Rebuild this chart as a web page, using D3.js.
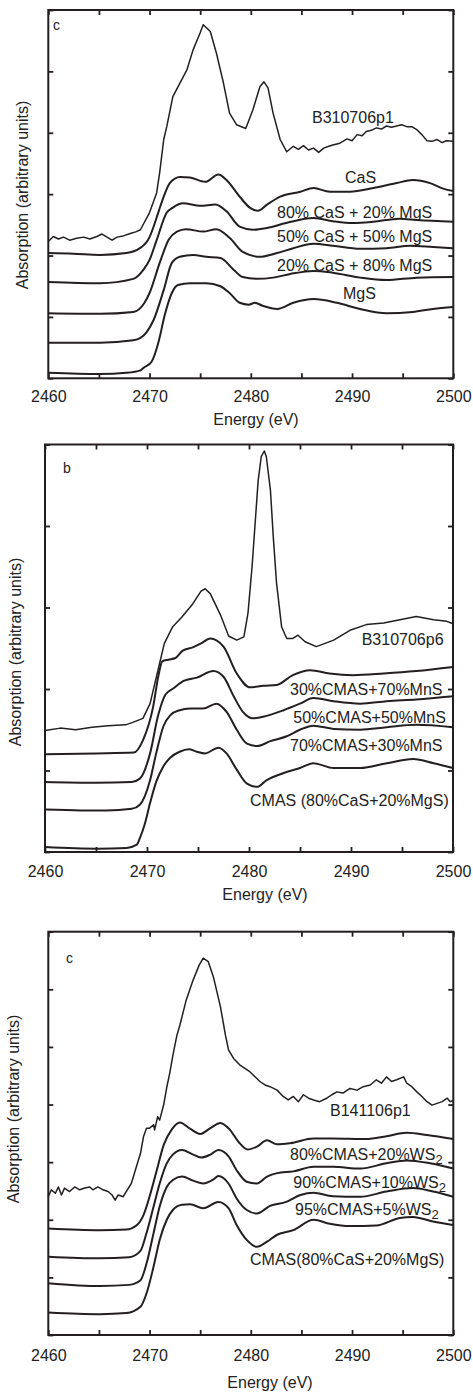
<!DOCTYPE html>
<html>
<head>
<meta charset="utf-8">
<script src="https://cdn.jsdelivr.net/npm/d3@7"></script>
<style>
  body { margin: 0; background: #fff; }
  text { font-family: "Liberation Sans", Arial, sans-serif; fill: #222; }
</style>
</head>
<body>
<div id="chart"></div>
<script>
// energies (eV) / absorption (arbitrary units, one tick = 1)

// panel 1
const p1Sample = [[2460,2.23],[2460.5,2.31],[2461,2.27],[2461.5,2.30],[2462.1,2.25],[2462.8,2.28],[2463.5,2.30],[2464.1,2.27],[2464.8,2.31],[2465.3,2.35],[2465.8,2.30],[2466.3,2.25],[2466.8,2.30],[2467.4,2.32],[2468.1,2.36],[2468.7,2.39],[2469.1,2.42],[2470.0,2.70],[2470.7,3.02],[2471.0,3.35],[2471.4,3.89],[2471.7,4.10],[2472.3,4.59],[2473.0,4.81],[2473.7,5.03],[2474.3,5.35],[2475.0,5.63],[2475.3,5.76],[2476.0,5.65],[2476.6,5.30],[2477.3,4.81],[2477.9,4.32],[2478.6,4.13],[2479.5,4.07],[2480.2,4.37],[2480.9,4.75],[2481.3,4.83],[2481.7,4.73],[2482.2,4.32],[2482.9,3.89],[2483.55,3.69],[2484.2,3.78],[2484.7,3.73],[2485.2,3.79],[2485.7,3.72],[2486.2,3.75],[2486.7,3.68],[2487.2,3.75],[2487.7,3.78],[2488.1,3.80],[2488.8,3.83],[2489.5,3.90],[2490.0,3.87],[2490.5,3.97],[2491.0,3.95],[2491.4,4.02],[2491.9,4.04],[2492.4,4.08],[2492.9,4.06],[2493.4,4.11],[2493.9,4.09],[2494.4,4.11],[2494.9,4.13],[2495.4,4.10],[2495.9,4.10],[2496.4,4.05],[2496.9,3.97],[2497.4,3.87],[2497.9,3.86],[2498.4,3.89],[2498.9,3.84],[2499.3,3.87],[2500,3.86]]
const p1CaS = [[2460,2.04],[2462.5,2.03],[2465.1,2.01],[2467.7,2.04],[2469.05,2.12],[2470.0,2.30],[2470.4,2.47],[2470.9,2.72],[2471.4,2.96],[2472.0,3.18],[2473.0,3.28],[2474.0,3.27],[2475.5,3.20],[2476.8,3.32],[2477.6,3.23],[2478.9,2.96],[2479.9,2.78],[2480.7,2.73],[2481.6,2.83],[2482.9,2.96],[2484.9,3.04],[2486.2,3.10],[2487.8,3.04],[2489.8,3.04],[2492.1,3.10],[2494.4,3.18],[2496.0,3.23],[2497.7,3.18],[2499.0,3.09],[2500,3.05]]
const p1Mix80 = [[2460,1.57],[2465.1,1.55],[2468.4,1.62],[2469.4,1.77],[2470.0,1.93],[2470.7,2.25],[2471.7,2.70],[2472.3,2.78],[2473.3,2.85],[2475.0,2.81],[2476.5,2.83],[2477.6,2.72],[2478.9,2.47],[2480.2,2.42],[2481.6,2.45],[2483.5,2.53],[2486.2,2.61],[2488.1,2.56],[2490.1,2.53],[2492.1,2.55],[2494.7,2.60],[2496.4,2.58],[2500,2.55]]
const p1Mix50 = [[2460,1.06],[2465.1,1.05],[2468.4,1.08],[2469.5,1.23],[2470.0,1.39],[2471.0,1.88],[2471.9,2.26],[2472.7,2.39],[2473.6,2.43],[2475.3,2.39],[2476.6,2.43],[2477.9,2.29],[2479.2,2.06],[2480.9,1.98],[2482.6,2.04],[2484.2,2.12],[2486.2,2.19],[2488.1,2.16],[2490.8,2.11],[2493.4,2.12],[2495.7,2.16],[2498.0,2.14],[2500,2.12]]
const p1Mix20 = [[2460,0.58],[2465.1,0.58],[2468.4,0.62],[2469.1,0.66],[2469.7,0.75],[2470.4,0.95],[2471.4,1.44],[2472.2,1.88],[2473.0,1.98],[2474.3,2.01],[2475.6,1.98],[2477.0,1.96],[2478.3,1.77],[2479.2,1.65],[2480.6,1.62],[2482.2,1.64],[2483.9,1.70],[2486.2,1.75],[2488.1,1.72],[2490.8,1.64],[2493.4,1.60],[2496.4,1.64],[2500,1.65]]
const p1MgS = [[2460,0.09],[2465.1,0.07],[2467.7,0.09],[2469.1,0.13],[2469.4,0.17],[2470.2,0.27],[2470.9,0.60],[2471.5,1.03],[2472.2,1.39],[2472.8,1.52],[2474.0,1.55],[2475.6,1.55],[2477.0,1.50],[2477.9,1.39],[2478.9,1.23],[2479.8,1.20],[2480.4,1.23],[2481.2,1.18],[2482.6,1.13],[2484.2,1.23],[2486.2,1.29],[2488.5,1.23],[2490.8,1.13],[2493.4,1.06],[2496.0,1.08],[2498.0,1.13],[2500,1.16]]
const p1Names = ["B310706p1", "CaS", "80% CaS + 20% MgS", "50% CaS + 50% MgS", "20% CaS + 80% MgS", "MgS"]

// panel 2
const p2Sample = [[2460,1.49],[2461.5,1.52],[2463.0,1.50],[2464.6,1.53],[2466.2,1.55],[2467.9,1.56],[2468.6,1.59],[2469.6,1.64],[2470.3,1.82],[2471.0,2.19],[2471.7,2.56],[2472.5,2.76],[2473.4,2.88],[2474.4,3.03],[2475.3,3.20],[2475.7,3.23],[2476.2,3.17],[2477.2,2.91],[2478.0,2.65],[2478.8,2.60],[2479.5,2.64],[2479.9,2.93],[2480.3,3.50],[2480.6,4.03],[2480.9,4.56],[2481.2,4.85],[2481.5,4.92],[2481.7,4.85],[2482.1,4.44],[2482.4,3.83],[2482.7,3.30],[2483.2,2.76],[2483.7,2.62],[2484.3,2.62],[2484.8,2.66],[2485.5,2.58],[2486.6,2.52],[2488.3,2.60],[2489.9,2.72],[2491.5,2.79],[2493.2,2.81],[2494.8,2.85],[2496.4,2.89],[2498.1,2.85],[2499.4,2.83],[2500,2.80]]
const p2Mix30 = [[2460,1.20],[2465.0,1.21],[2468.7,1.22],[2469.6,1.37],[2470.6,1.78],[2471.1,2.15],[2471.5,2.34],[2472.1,2.36],[2472.8,2.38],[2473.5,2.47],[2474.5,2.51],[2475.3,2.56],[2476.2,2.62],[2477.5,2.52],[2478.8,2.19],[2480.1,2.02],[2481.4,2.04],[2482.7,2.05],[2484.3,2.17],[2486.0,2.23],[2487.9,2.19],[2490.2,2.17],[2493.2,2.19],[2496.4,2.22],[2500,2.27]]
const p2Mix50 = [[2460,0.86],[2465.0,0.85],[2468.5,0.86],[2469.3,0.90],[2470.3,1.21],[2471.1,1.68],[2471.8,1.93],[2472.6,2.01],[2473.6,2.10],[2474.9,2.14],[2476.5,2.22],[2477.5,2.15],[2478.5,1.91],[2479.4,1.72],[2480.4,1.64],[2481.7,1.67],[2483.4,1.74],[2485.0,1.82],[2486.3,1.89],[2488.3,1.85],[2490.9,1.82],[2493.5,1.85],[2496.4,1.87],[2500,1.91]]
const p2Mix70 = [[2460,0.52],[2463.5,0.51],[2466.0,0.51],[2468.5,0.53],[2469.3,0.58],[2470.3,0.88],[2470.9,1.21],[2471.6,1.54],[2472.3,1.68],[2473.2,1.74],[2474.2,1.76],[2475.5,1.76],[2476.8,1.82],[2477.8,1.72],[2478.8,1.50],[2479.8,1.33],[2480.8,1.30],[2482.1,1.36],[2483.7,1.42],[2485.0,1.50],[2486.3,1.55],[2488.3,1.51],[2490.9,1.50],[2493.5,1.53],[2496.4,1.56],[2500,1.53]]
const p2CMAS = [[2460,0.06],[2465.1,0.04],[2468.0,0.05],[2469.0,0.09],[2469.3,0.17],[2469.8,0.35],[2470.3,0.60],[2470.9,0.86],[2471.6,1.05],[2472.3,1.16],[2473.2,1.23],[2474.1,1.26],[2474.9,1.23],[2475.7,1.21],[2477.0,1.28],[2477.8,1.21],[2478.8,1.01],[2479.8,0.84],[2480.8,0.80],[2481.7,0.88],[2483.4,0.97],[2485.0,1.03],[2486.3,1.09],[2488.3,1.03],[2490.9,1.03],[2493.5,1.09],[2496.1,1.14],[2498.1,1.09],[2500,1.03]]
const p2Names = ["B310706p6", "30%CMAS+70%MnS", "50%CMAS+50%MnS", "70%CMAS+30%MnS", "CMAS (80%CaS+20%MgS)"]

// panel 3
const p3Sample = [[2460.0,2.40],[2460.3,2.52],[2460.7,2.46],[2461.0,2.57],[2461.3,2.43],[2461.6,2.55],[2462.1,2.49],[2462.6,2.57],[2463.1,2.52],[2463.6,2.55],[2464.1,2.57],[2464.4,2.52],[2464.9,2.57],[2465.4,2.52],[2465.9,2.49],[2466.3,2.43],[2466.6,2.34],[2466.9,2.43],[2467.4,2.40],[2467.8,2.52],[2468.2,2.63],[2468.7,2.92],[2469.1,3.15],[2469.4,3.44],[2469.7,3.59],[2470.0,3.59],[2470.4,3.65],[2470.5,3.56],[2470.8,3.79],[2471.0,3.73],[2471.4,4.0],[2471.7,4.3],[2472.0,4.55],[2472.3,4.85],[2472.7,5.2],[2473.0,5.38],[2473.6,5.8],[2474.3,6.16],[2474.9,6.42],[2475.3,6.54],[2475.8,6.48],[2476.3,6.22],[2477.0,5.7],[2477.5,5.2],[2477.8,4.95],[2478.3,4.80],[2478.9,4.69],[2479.9,4.57],[2480.9,4.40],[2481.4,4.34],[2481.9,4.31],[2482.6,4.25],[2483.2,4.14],[2483.7,4.08],[2484.2,4.14],[2484.7,4.05],[2485.2,4.17],[2485.7,4.11],[2486.2,4.08],[2486.8,4.05],[2487.5,4.11],[2488.0,4.17],[2488.5,4.22],[2489.1,4.20],[2489.8,4.28],[2490.5,4.25],[2491.1,4.31],[2491.8,4.34],[2492.4,4.43],[2492.9,4.37],[2493.4,4.48],[2493.9,4.40],[2494.4,4.43],[2495.1,4.48],[2495.4,4.37],[2495.9,4.31],[2496.4,4.22],[2496.9,4.14],[2497.4,4.05],[2497.9,3.99],[2498.4,4.02],[2498.9,4.05],[2499.4,4.11],[2499.7,4.05],[2500,4.07]]
const p3Mix80 = [[2460.0,1.85],[2465.1,1.82],[2467.7,1.83],[2468.7,1.90],[2469.4,2.08],[2470.0,2.40],[2470.7,2.85],[2471.4,3.30],[2472.2,3.57],[2473.0,3.69],[2474.0,3.58],[2475.0,3.49],[2476.0,3.59],[2477.0,3.68],[2477.9,3.57],[2478.8,3.35],[2479.7,3.22],[2480.6,3.27],[2481.6,3.38],[2482.6,3.31],[2483.9,3.33],[2486.2,3.41],[2488.1,3.41],[2491.4,3.40],[2493.4,3.45],[2495.4,3.51],[2497.4,3.47],[2500,3.40]]
const p3Mix90 = [[2460.0,1.36],[2465.1,1.33],[2468.0,1.35],[2469.1,1.46],[2469.7,1.77],[2470.4,2.23],[2471.0,2.63],[2471.7,2.98],[2472.3,3.13],[2473.2,3.21],[2474.2,3.14],[2475.1,3.08],[2476.0,3.13],[2476.8,3.21],[2477.8,3.10],[2478.6,2.86],[2479.6,2.66],[2480.6,2.63],[2481.6,2.75],[2482.6,2.81],[2484.2,2.84],[2486.2,2.92],[2488.1,2.92],[2490.8,2.89],[2493.4,2.98],[2495.4,3.03],[2497.7,2.98],[2500,2.89]]
const p3Mix95 = [[2460.0,0.90],[2465.1,0.85],[2468.0,0.87],[2469.1,0.95],[2469.7,1.24],[2470.4,1.77],[2471.0,2.23],[2471.7,2.57],[2472.3,2.69],[2473.2,2.75],[2474.3,2.68],[2475.3,2.63],[2476.3,2.70],[2476.8,2.76],[2477.8,2.63],[2478.6,2.37],[2479.6,2.17],[2480.6,2.11],[2481.9,2.24],[2483.5,2.31],[2484.9,2.43],[2486.2,2.47],[2488.1,2.41],[2490.8,2.40],[2493.4,2.49],[2496.0,2.55],[2498.0,2.49],[2500,2.40]]
const p3CMAS = [[2460.0,0.39],[2465.1,0.36],[2467.7,0.38],[2469.1,0.49],[2469.7,0.72],[2470.4,1.19],[2471.0,1.65],[2471.7,2.00],[2472.3,2.17],[2473.2,2.26],[2474.0,2.27],[2475.3,2.20],[2476.8,2.31],[2477.8,2.20],[2478.6,1.91],[2479.6,1.65],[2480.6,1.53],[2481.6,1.62],[2482.6,1.74],[2484.2,1.82],[2486.2,2.00],[2487.8,1.93],[2489.8,1.89],[2492.4,1.90],[2494.7,2.03],[2496.0,2.05],[2498.0,1.97],[2500,1.91]]
const p3Names = ["B141106p1", "80%CMAS+20%WS|2", "90%CMAS+10%WS|2", "95%CMAS+5%WS|2", "CMAS(80%CaS+20%MgS)"]

const energyTicks = [2460, 2465, 2470, 2475, 2480, 2485, 2490, 2495, 2500]

// layout, pixel positions
const panels = [
  {letter: "c", series: [p1Sample, p1CaS, p1Mix80, p1Mix50, p1Mix20, p1MgS], names: p1Names,
   left: 48.3, right: 453.3, top: 10, bottom: 378.3, yMax: 6, pad: 12,
   letterPos: [53, 30], eLabel: [256, 425], yLabel: [22, 195],
   labelPos: [[312,122.5],[345,182.5],[277,218],[277,241.5],[277,270.5],[343,299]]},
  {letter: "b", series: [p2Sample, p2Mix30, p2Mix50, p2Mix70, p2CMAS], names: p2Names,
   left: 45, right: 453, top: 444.5, bottom: 852, yMax: 5, pad: 14,
   letterPos: [63, 473], eLabel: [265, 900], yLabel: [15.5, 652],
   labelPos: [[361.7,645],[290,695],[293.3,723],[290,751],[250,806]]},
  {letter: "c", series: [p3Sample, p3Mix80, p3Mix90, p3Mix95, p3CMAS], names: p3Names,
   left: 48.3, right: 453.3, top: 931.7, bottom: 1335, yMax: 7, pad: 15,
   letterPos: [66, 963], eLabel: [270, 1388], yLabel: [13.5, 1109],
   labelPos: [[330,1116],[290,1160],[293.3,1188],[295,1215],[250,1265]]}
]

const ink = "#231f20"

const svg = d3.select("#chart").append("svg")
  .attr("width", 473)
  .attr("height", 1396)

panels.forEach(p => {
  const x = d3.scaleLinear().domain([2460, 2500]).range([p.left, p.right])
  const y = d3.scaleLinear().domain([0, p.yMax]).range([p.bottom, p.top])
  const g = svg.append("g")

  const yTicks = d3.range(0, p.yMax + 1)

  const axes = [
    [d3.axisBottom(x).tickValues(energyTicks).tickFormat(d => d % 10 === 0 ? d : ""), `translate(0,${p.bottom})`],
    [d3.axisTop(x).tickValues(energyTicks).tickFormat(""), `translate(0,${p.top})`],
    [d3.axisLeft(y).tickValues(yTicks).tickFormat(""), `translate(${p.left},0)`],
    [d3.axisRight(y).tickValues(yTicks).tickFormat(""), `translate(${p.right},0)`]
  ]
  axes.forEach(([ax, tr]) => {
    const a = g.append("g")
      .attr("transform", tr)
      .call(ax.tickSizeInner(-5).tickSizeOuter(0).tickPadding(p.pad))
    a.select(".domain").remove()
    a.selectAll("line").attr("stroke", ink).attr("stroke-width", 1.8)
    a.selectAll("text")
      .attr("font-size", 16)
      .attr("font-family", '"Liberation Sans", Arial, sans-serif')
      .attr("fill", "#222")
  })

  g.append("rect")
    .attr("x", p.left).attr("y", p.top)
    .attr("width", p.right - p.left).attr("height", p.bottom - p.top)
    .attr("fill", "none").attr("stroke", ink).attr("stroke-width", 2)

  const smooth = d3.line().x(d => x(d[0])).y(d => y(d[1])).curve(d3.curveMonotoneX)
  const rough = d3.line().x(d => x(d[0])).y(d => y(d[1]))

  p.series.forEach((s, i) => {
    g.append("path")
      .attr("d", i === 0 ? rough(s) : smooth(s))
      .attr("fill", "none")
      .attr("stroke", ink)
      .attr("stroke-width", i === 0 ? 1.5 : 2)
      .attr("stroke-linejoin", "round")
  })

  p.names.forEach((n, i) => {
    const [main, sub] = n.split("|")
    const t = g.append("text")
      .attr("x", p.labelPos[i][0])
      .attr("y", p.labelPos[i][1])
      .attr("font-size", 16)
      .text(main)
    if (sub) {
      t.append("tspan").attr("dy", 4).attr("font-size", 13).text(sub)
    }
  })

  g.append("text")
    .attr("x", p.letterPos[0]).attr("y", p.letterPos[1])
    .attr("font-size", 14)
    .text(p.letter)

  g.append("text")
    .attr("x", p.eLabel[0]).attr("y", p.eLabel[1])
    .attr("text-anchor", "middle")
    .attr("font-size", 16)
    .text("Energy (eV)")

  g.append("text")
    .attr("transform", `translate(${p.yLabel[0]},${p.yLabel[1]}) rotate(-90)`)
    .attr("text-anchor", "middle")
    .attr("dy", "0.35em")
    .attr("font-size", 16)
    .text("Absorption (arbitrary units)")
})
</script>
</body>
</html>
